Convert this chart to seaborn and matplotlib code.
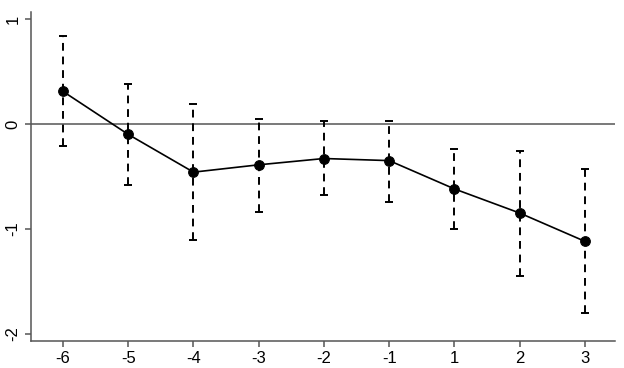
import numpy as np
import pandas as pd
import seaborn as sns
import matplotlib.pyplot as plt

# Données (coefficients et intervalles de confiance)
periodes = ["-6", "-5", "-4", "-3", "-2", "-1", "1", "2", "3"]
coef = [0.31, -0.10, -0.46, -0.39, -0.33, -0.35, -0.62, -0.85, -1.12]
borne_haute = [0.84, 0.38, 0.19, 0.05, 0.03, 0.03, -0.24, -0.26, -0.43]
borne_basse = [-0.21, -0.58, -1.11, -0.84, -0.68, -0.74, -1.00, -1.45, -1.80]

df = pd.DataFrame({"periode": periodes, "coef": coef,
                   "haut": borne_haute, "bas": borne_basse})
df["pos"] = np.arange(len(df))

sns.set_style("white")
plt.rcParams['font.family'] = ['Liberation Sans', 'DejaVu Sans']

fig = plt.figure(figsize=(6.24, 3.68), dpi=100)
ax = fig.add_axes([31 / 624, 27 / 368, 584 / 624, 329 / 368])

# ligne horizontale à zéro
ax.axhline(0, color="#555555", lw=1.1, zorder=1)

# intervalles de confiance en tirets
err = [df["coef"] - df["bas"], df["haut"] - df["coef"]]
eb = ax.errorbar(df["pos"], df["coef"], yerr=err, fmt="none", ecolor="black",
                 elinewidth=1.4, capsize=3, capthick=1.4, zorder=2)
eb[2][0].set_linestyle((0, (4, 3)))

sns.lineplot(data=df, x="pos", y="coef", color="black", lw=1.2,
             marker="o", markersize=7, markeredgecolor="black", ax=ax, zorder=3)

ax.set_xticks(df["pos"])
ax.set_xticklabels(df["periode"])
ax.set_xlim(-0.49, 8.46)
ax.set_ylim(-2.07, 1.067)
ax.set_yticks([-2, -1, 0, 1])
ax.set_yticklabels(["-2", "-1", "0", "1"], rotation=90, va="center")
ax.set_xlabel("")
ax.set_ylabel("")

for s in ["top", "right"]:
    ax.spines[s].set_visible(False)
for s in ["left", "bottom"]:
    ax.spines[s].set_color("#555555")
    ax.spines[s].set_linewidth(1.1)

ax.tick_params(axis="both", direction="out", length=4, width=1.1,
               color="#555555", labelsize=12, labelcolor="black",
               left=True, bottom=True)

fig.savefig("out.png", dpi=100)
